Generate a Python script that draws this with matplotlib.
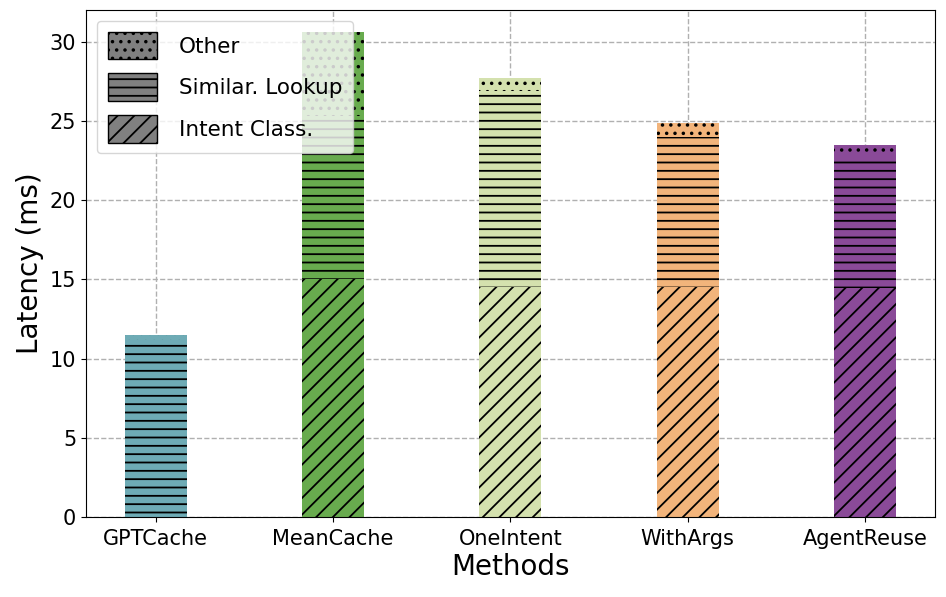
import numpy as np
import matplotlib
matplotlib.use("Agg")
from matplotlib import pyplot as plt
from matplotlib.patches import Patch

methods = ["GPTCache", "MeanCache", "OneIntent", "WithArgs", "AgentReuse"]
intent_class = [0.0, 15.0, 14.5, 14.5, 14.45]
similar_lookup = [11.2, 10.3, 12.4, 9.5, 8.35]
other = [0.3, 5.3, 0.8, 0.85, 0.7]
colors = ["#6eabb5", "#68ab4e", "#d4e1ae", "#f2b47b", "#8a4a98"]

plt.rcParams['hatch.linewidth'] = 1.3

fig = plt.figure(figsize=(9.46, 5.97), dpi=100)
ax = fig.add_axes([0.091, 0.134, 0.897, 0.849])

x = np.arange(len(methods))
width = 0.35
bottom2 = np.array(intent_class)
bottom3 = bottom2 + np.array(similar_lookup)

ax.bar(x, intent_class, width, color=colors, hatch='//', linewidth=0)
ax.bar(x, similar_lookup, width, bottom=bottom2, color=colors, hatch='--', linewidth=0)
ax.bar(x, other, width, bottom=bottom3, color=colors, hatch='..', linewidth=0)

ax.set_ylim(0, 32)
ax.set_xticks(x)
ax.set_xticklabels(methods)
ax.tick_params(axis='both', labelsize=15)
ax.tick_params(axis='x', pad=5)
ax.set_xlabel("Methods", fontsize=20, labelpad=3)
ax.set_ylabel("Latency (ms)", fontsize=20)
ax.grid(True, linestyle='--', color='#b0b0b0', linewidth=1)
ax.set_axisbelow(True)

handles = [Patch(facecolor='gray', edgecolor='black', hatch='..', label='Other'),
           Patch(facecolor='gray', edgecolor='black', hatch='--', label='Similar. Lookup'),
           Patch(facecolor='gray', edgecolor='black', hatch='//', label='Intent Class.')]
ax.legend(handles=handles, loc='upper left', fontsize=15.5, handlelength=2.3,
          handleheight=1.6, labelspacing=0.65, handletextpad=1.0, borderpad=0.5)

fig.savefig("out.png", dpi=100)
